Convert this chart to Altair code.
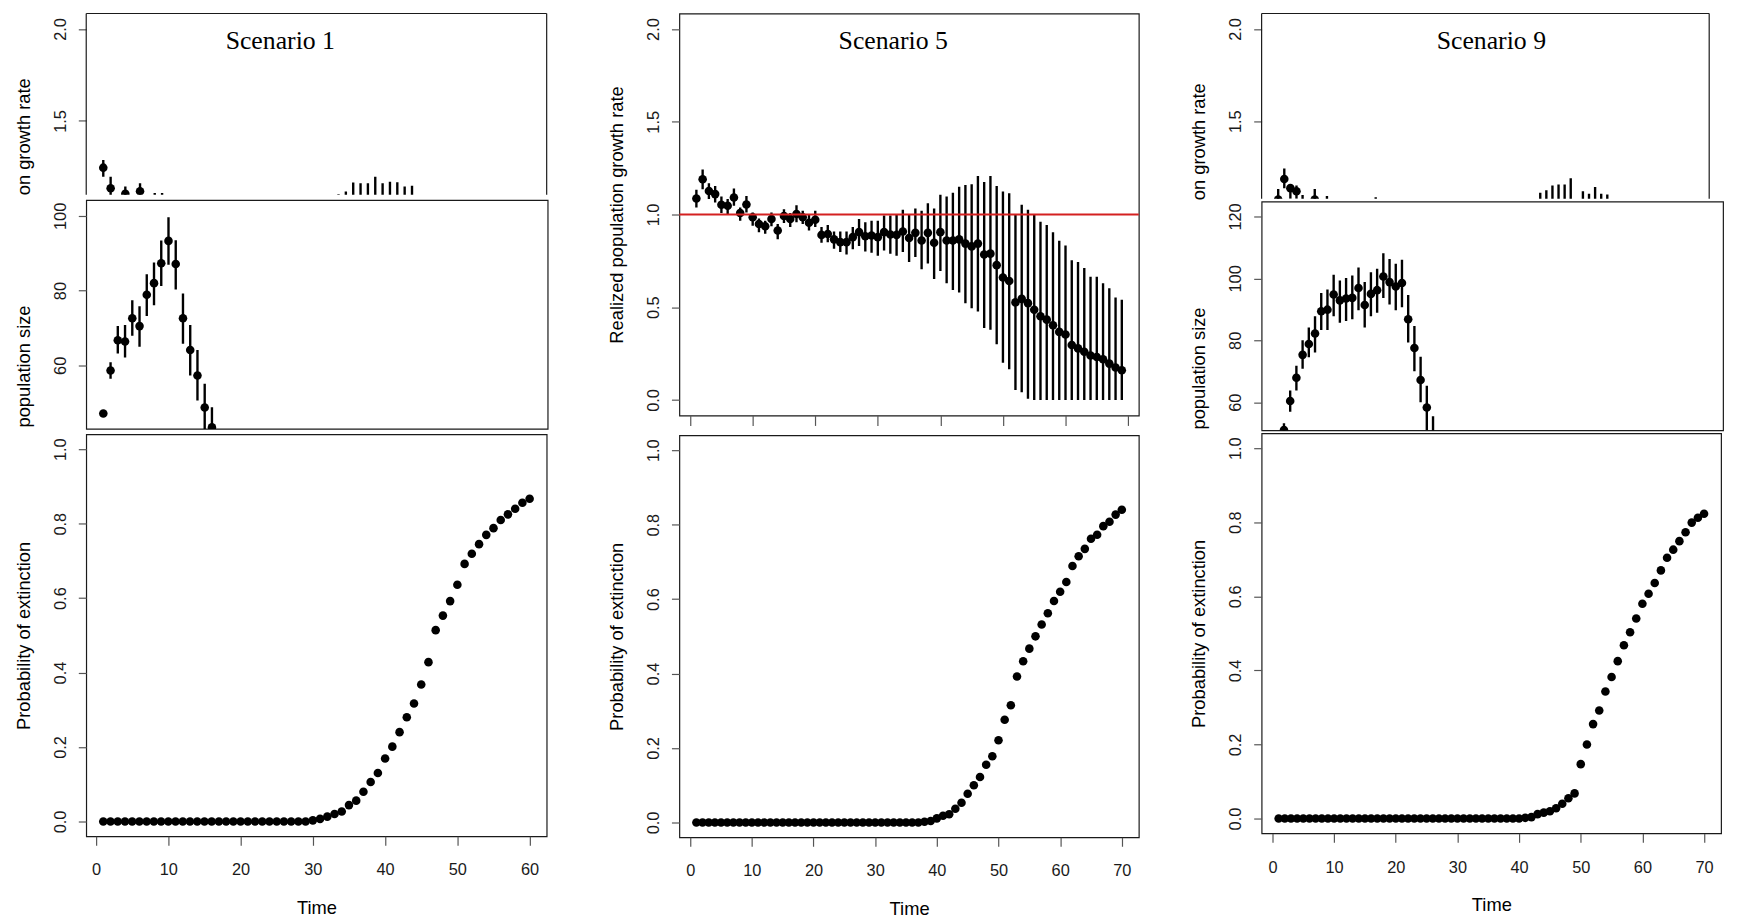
import altair as alt
import pandas as pd

# ---------------- data ----------------
# Scenario 1 : realized growth rate (only the part above the overlapping panel is visible)
g1_t = [1, 2, 4, 6, 8, 9, 33, 34, 35, 36, 37, 38, 39, 40, 41, 42, 43]
g1_mean = [1.246, 1.134, 1.104, 1.118, 1.02, 1.01, 0.90, 0.88, 0.90, 0.90, 0.88, 0.90, 0.88, 0.88, 0.86, 0.85, 0.84]
g1_lo = [1.197, 1.07, 1.05, 1.07, 0.95, 0.94, 0.65, 0.62, 0.60, 0.60, 0.58, 0.55, 0.52, 0.50, 0.48, 0.45, 0.42]
g1_hi = [1.287, 1.197, 1.144, 1.161, 1.108, 1.108, 1.102, 1.117, 1.165, 1.161, 1.161, 1.197, 1.161, 1.17, 1.167, 1.144, 1.147]

# Scenario 1 : population size (visible part)
p1_t = [1, 2, 3, 4, 5, 6, 7, 8, 9, 10, 11, 12, 13, 14, 15, 16]
p1_mean = [47.1, 58.6, 66.7, 66.4, 72.6, 70.5, 78.9, 82.0, 87.3, 93.3, 87.1, 72.6, 64.1, 57.3, 48.7, 43.4]
p1_lo = [46.6, 56.4, 63.2, 62.1, 67.9, 65.0, 73.2, 76.1, 81.2, 86.9, 80.3, 65.8, 57.3, 50.6, 42.6, 37.0]
p1_hi = [47.6, 60.8, 70.5, 70.8, 77.4, 75.8, 84.4, 87.5, 93.4, 99.6, 93.5, 79.2, 70.8, 64.1, 55.1, 48.8]

# Scenario 1 : probability of extinction, t = 1..60
e1_p = [0, 0, 0, 0, 0, 0, 0, 0, 0, 0, 0, 0, 0, 0, 0, 0, 0, 0, 0, 0, 0, 0, 0, 0, 0, 0, 0, 0, 0,
        0.003, 0.007, 0.013, 0.02, 0.027, 0.044, 0.056, 0.08, 0.106, 0.13, 0.169, 0.201, 0.24,
        0.28, 0.317, 0.368, 0.428, 0.514, 0.553, 0.592, 0.636, 0.692, 0.719, 0.745, 0.77, 0.788,
        0.81, 0.825, 0.84, 0.856, 0.867]

# Scenario 5 : realized growth rate, t = 1..69
g5_mean = [1.086, 1.19, 1.127, 1.11, 1.053, 1.047, 1.092, 1.008, 1.054, 0.985,
           0.949, 0.937, 0.976, 0.914, 0.992, 0.976, 1.003, 0.985, 0.956, 0.972,
           0.89, 0.895, 0.866, 0.851, 0.851, 0.878, 0.905, 0.883, 0.887, 0.878,
           0.905, 0.892, 0.89, 0.908, 0.873, 0.901, 0.86, 0.901, 0.848, 0.905,
           0.86, 0.86, 0.866, 0.843, 0.828, 0.843, 0.784, 0.789, 0.727, 0.66,
           0.641, 0.526, 0.545, 0.522, 0.486, 0.451, 0.433, 0.403, 0.367, 0.353,
           0.296, 0.278, 0.26, 0.24, 0.232, 0.219, 0.196, 0.175, 0.16]
g5_hi = [1.133, 1.243, 1.168, 1.154, 1.097, 1.083, 1.14, 1.038, 1.1, 1.011,
         0.979, 0.967, 1.011, 0.949, 1.029, 1.008, 1.05, 1.02, 0.997, 1.02,
         0.932, 0.944, 0.908, 0.908, 0.908, 0.932, 0.976, 0.958, 0.967, 0.967,
         0.994, 0.994, 1.002, 1.025, 0.997, 1.033, 1.02, 1.061, 1.033, 1.106,
         1.097, 1.118, 1.15, 1.159, 1.163, 1.207, 1.175, 1.207, 1.154, 1.124,
         1.115, 1.002, 1.052, 1.025, 1.002, 0.961, 0.943, 0.904, 0.859, 0.833,
         0.753, 0.744, 0.712, 0.664, 0.664, 0.629, 0.602, 0.552, 0.54]
g5_lo = [1.038, 1.136, 1.083, 1.065, 1.008, 1.002, 1.047, 0.967, 1.011, 0.94,
         0.905, 0.896, 0.937, 0.866, 0.954, 0.932, 0.958, 0.949, 0.914, 0.932,
         0.848, 0.851, 0.816, 0.798, 0.784, 0.812, 0.83, 0.8, 0.794, 0.777,
         0.806, 0.788, 0.777, 0.798, 0.744, 0.771, 0.705, 0.736, 0.652, 0.695,
         0.629, 0.593, 0.58, 0.521, 0.495, 0.477, 0.388, 0.379, 0.3, 0.201,
         0.166, 0.054, 0.041, 0.006, 0, 0, 0, 0, 0, 0,
         0, 0, 0, 0, 0, 0, 0, 0, 0]
g5_t = list(range(1, 70))

# Scenario 5 : probability of extinction, t = 1..70
e5_p = [0, 0, 0, 0, 0, 0, 0, 0, 0, 0, 0, 0, 0, 0, 0, 0, 0, 0, 0, 0, 0, 0, 0, 0, 0, 0, 0, 0, 0, 0,
        0, 0, 0, 0, 0, 0, 0,
        0.002, 0.004, 0.011, 0.018, 0.022, 0.037, 0.053, 0.077, 0.1, 0.122, 0.155, 0.178, 0.221,
        0.276, 0.315, 0.392, 0.433, 0.467, 0.5, 0.532, 0.562, 0.595, 0.62, 0.646, 0.689, 0.715,
        0.735, 0.762, 0.773, 0.796, 0.808, 0.827, 0.84]

# Scenario 9 : realized growth rate (visible part)
g9_t = [1, 2, 3, 4, 5, 7, 9, 17, 44, 45, 46, 47, 48, 49, 51, 52, 53, 54, 55]
g9_mean = [1.075, 1.187, 1.137, 1.12, 1.05, 1.075, 1.03, 1.0, 0.85, 0.85, 0.85, 0.84, 0.83, 0.82, 0.75, 0.7, 0.7, 0.65, 0.6]
g9_lo = [1.02, 1.137, 1.08, 1.08, 1.0, 1.02, 0.97, 0.92, 0.55, 0.52, 0.5, 0.48, 0.45, 0.4, 0.35, 0.3, 0.28, 0.22, 0.2]
g9_hi = [1.133, 1.244, 1.16, 1.152, 1.1, 1.133, 1.095, 1.088, 1.112, 1.125, 1.152, 1.157, 1.157, 1.191, 1.12, 1.107, 1.143, 1.107, 1.102]

# Scenario 9 : population size (visible part)
p9_t = list(range(1, 26))
p9_mean = [51.0, 60.4, 67.9, 75.3, 78.8, 82.2, 89.4, 89.9, 94.8, 92.9, 93.5, 93.7, 96.9,
           91.4, 95.0, 96.2, 100.6, 98.8, 97.4, 98.5, 86.8, 77.5, 67.2, 58.3, 49.0]
p9_lo = [49.0, 56.9, 63.8, 70.8, 74.5, 76.1, 83.3, 83.3, 87.8, 85.7, 86.2, 86.8, 89.7,
         84.1, 87.8, 88.9, 93.7, 91.6, 89.7, 90.7, 79.3, 70.0, 60.0, 51.0, 42.0]
p9_hi = [53.2, 63.8, 71.8, 80.0, 84.1, 87.8, 95.3, 96.4, 101.2, 99.3, 100.1, 100.9, 103.5,
         98.8, 102.0, 103.1, 108.1, 106.3, 104.7, 106.0, 94.6, 84.6, 74.7, 65.3, 55.5]

# Scenario 9 : probability of extinction, t = 1..70
e9_p = [0, 0, 0, 0, 0, 0, 0, 0, 0, 0, 0, 0, 0, 0, 0, 0, 0, 0, 0, 0, 0, 0, 0, 0, 0, 0, 0, 0, 0, 0,
        0, 0, 0, 0, 0, 0, 0, 0, 0, 0,
        0.002, 0.004, 0.012, 0.016, 0.02, 0.028, 0.04, 0.055, 0.068, 0.147, 0.2, 0.255, 0.292,
        0.343, 0.382, 0.425, 0.468, 0.503, 0.54, 0.58, 0.607, 0.636, 0.67, 0.704, 0.726, 0.749,
        0.773, 0.799, 0.812, 0.823]

x_ticks_60 = [0, 10, 20, 30, 40, 50, 60]
x_ticks_70 = [0, 10, 20, 30, 40, 50, 60, 70]
p_ticks = [0.0, 0.2, 0.4, 0.6, 0.8, 1.0]

GROWTH_TITLE = "Realized population growth rate"

# ---------------- helpers ----------------
FRAME = "#1a1a1a"
DOT = 75


def yaxis(values, fmt, title, title_y):
    return alt.Axis(values=values, format=fmt, title=title, labelAngle=270,
                    labelAlign="center", labelBaseline="middle", tickSize=8,
                    labelPadding=18, titleX=-63.5, titleY=title_y, titleAngle=270,
                    titleAlign="center", titleBaseline="middle")


def xaxis_full(values):
    return alt.Axis(values=values, format="d", title="Time", labelAngle=0,
                    labelAlign="center", labelBaseline="middle", tickSize=9,
                    labelPadding=25, titleY=72, titleBaseline="middle")


def frame_open(w, h):
    d = alt.Chart(pd.DataFrame({"k": [0]}))
    left = d.mark_rule(color=FRAME, strokeWidth=1.2).encode(
        x=alt.value(0), y=alt.value(0), y2=alt.value(h))
    top = d.mark_rule(color=FRAME, strokeWidth=1.2).encode(
        x=alt.value(0), x2=alt.value(w), y=alt.value(0))
    right = d.mark_rule(color=FRAME, strokeWidth=1.2).encode(
        x=alt.value(w), y=alt.value(0), y2=alt.value(h))
    return [left, top, right]


def label_text(label, lx):
    return alt.Chart(pd.DataFrame({"label": [label]})).mark_text(
        font="Liberation Serif", fontSize=26, align="center", baseline="alphabetic",
        color="black").encode(x=alt.value(lx), y=alt.value(36), text="label:N")


def err_panel(t, mean, lo, hi, xdom, ydom, w, h, yax, xax, extra_front=None,
              open_frame=False):
    df = pd.DataFrame({"t": t, "mean": mean, "lo": lo, "hi": hi})
    xs = alt.Scale(domain=xdom, nice=False, zero=False)
    ys = alt.Scale(domain=ydom, nice=False, zero=False)
    base = alt.Chart(df)
    bars = base.mark_rule(color="black", strokeWidth=2.4, clip=True).encode(
        x=alt.X("t:Q", scale=xs, axis=xax),
        y=alt.Y("lo:Q", scale=ys, axis=yax),
        y2="hi:Q")
    pts = base.mark_circle(color="black", size=DOT, opacity=1, clip=True).encode(
        x=alt.X("t:Q", scale=xs, axis=xax),
        y=alt.Y("mean:Q", scale=ys, axis=yax))
    layers = [bars, pts] + list(extra_front or [])
    if open_frame:
        layers += frame_open(w, h)
        view = alt.ViewBackground(strokeOpacity=0)
    else:
        view = alt.ViewBackground(stroke=FRAME, strokeWidth=1.2)
    return alt.layer(*layers).properties(width=w, height=h, view=view)


def ext_panel(p, xdom, xticks, w, h):
    df = pd.DataFrame({"t": list(range(1, len(p) + 1)), "p": p})
    return alt.Chart(df).mark_circle(color="black", size=DOT, opacity=1).encode(
        x=alt.X("t:Q", scale=alt.Scale(domain=xdom, nice=False, zero=False),
                axis=xaxis_full(xticks)),
        y=alt.Y("p:Q", scale=alt.Scale(domain=[-0.04, 1.04], nice=False, zero=False),
                axis=yaxis(p_ticks, ".1f", "Probability of extinction", h / 2)),
    ).properties(width=w, height=h,
                 view=alt.ViewBackground(stroke=FRAME, strokeWidth=1.2))


# ---------------- column 1 : Scenario 1 ----------------
g1 = err_panel(g1_t, g1_mean, g1_lo, g1_hi, [-1.32, 61.32], [1.099, 2.084], 465, 183,
               yaxis([1.5, 2.0], ".1f", "on growth rate", 124), None,
               extra_front=[label_text("Scenario 1", 196)], open_frame=True)
p1 = err_panel(p1_t, p1_mean, p1_lo, p1_hi, [-1.36, 62.36], [43.0, 104.2], 466, 231,
               yaxis([60, 80, 100], "d", "population size", 167.5), None)
e1 = ext_panel(e1_p, [-1.36, 62.36], x_ticks_60, 465, 406)
col1 = alt.vconcat(g1, p1, e1, spacing=5.5, bounds="flush")

# ---------------- column 2 : Scenario 5 ----------------
ref_line = alt.Chart(pd.DataFrame({"r": [1.0]})).mark_rule(
    color="#d42020", strokeWidth=2).encode(
    y=alt.Y("r:Q"), x=alt.value(0), x2=alt.value(464))
g5 = err_panel(g5_t, g5_mean, g5_lo, g5_hi, [-1.72, 71.72], [-0.084, 2.084], 464, 406,
               yaxis([0.0, 0.5, 1.0, 1.5, 2.0], ".1f", GROWTH_TITLE, 203),
               alt.Axis(values=x_ticks_70, labels=False, title=None, tickSize=10),
               extra_front=[ref_line, label_text("Scenario 5", 216)])
e5 = ext_panel(e5_p, [-1.76, 72.76], x_ticks_70, 464, 406)
col2 = alt.vconcat(g5, e5, spacing=20, bounds="flush")

# ---------------- column 3 : Scenario 9 ----------------
g9 = err_panel(g9_t, g9_mean, g9_lo, g9_hi, [-1.72, 71.72], [1.08, 2.084], 452, 187,
               yaxis([1.5, 2.0], ".1f", "on growth rate", 129), None,
               extra_front=[label_text("Scenario 9", 232)], open_frame=True)
p9 = err_panel(p9_t, p9_mean, p9_lo, p9_hi, [-2.6, 71.7], [50.9, 124.8], 466, 231,
               yaxis([60, 80, 100, 120], "d", "population size", 168), None)
e9 = ext_panel(e9_p, [-1.76, 72.76], x_ticks_70, 464, 404)
col3 = alt.vconcat(g9, p9, e9, spacing=3, bounds="flush")

left = alt.hconcat(col1, col2, spacing=58)
chart = alt.hconcat(left, col3, spacing=48).properties(
    padding={"left": 5, "top": 0, "right": 5, "bottom": 5},
    background="white",
).configure_axis(
    labelFont="Liberation Sans", titleFont="Liberation Sans",
    labelFontSize=16.5, titleFontSize=18.5, titleFontWeight="normal",
    labelColor="#1a1a1a", titleColor="#000000", tickColor="#555555", tickWidth=1.2,
    grid=False, domain=False,
).configure_view(stroke=FRAME, strokeWidth=1.2)

chart.save("out.html", embed_options={"renderer": "svg", "actions": False})
